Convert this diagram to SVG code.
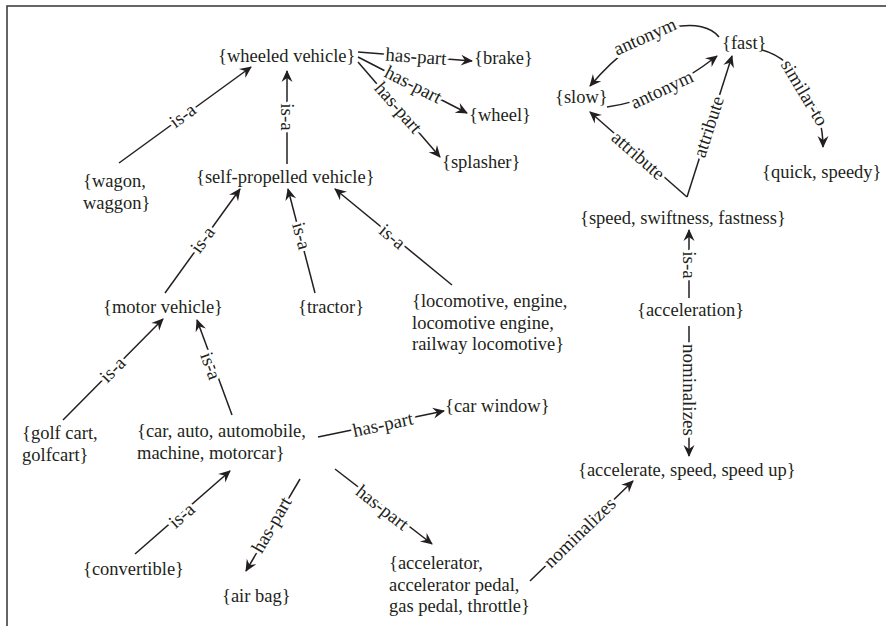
<svg xmlns="http://www.w3.org/2000/svg" width="886" height="626" viewBox="0 0 886 626">
<defs>
<style>
.n{font-family:"Liberation Serif","DejaVu Serif",serif;font-size:18.5px;fill:#231f20}
.l{font-family:"Liberation Serif","DejaVu Serif",serif;font-size:19px;fill:#231f20;stroke:#fff;stroke-width:6px;paint-order:stroke;stroke-linejoin:round;text-anchor:middle}
.e{fill:none;stroke:#231f20;stroke-width:1.5;marker-end:url(#ah)}
.f{fill:none;stroke:#333;stroke-width:1.5}
</style>
<marker id="ah" viewBox="-13 -7 15 14" refX="0" refY="0" markerWidth="15" markerHeight="14" markerUnits="userSpaceOnUse" orient="auto">
<path d="M1,0 L-11,-5.5 L-7,0 L-11,5.5 Z" fill="#231f20"/>
</marker>
</defs>
<rect width="886" height="626" fill="#fff"/>
<path class="f" d="M7,626 L7,6 L886,6"/>
<g id="connectors">
<path class="e" d="M119,163 L251,67"/>
<path class="e" d="M287,164 L287,71"/>
<path class="e" d="M358,52 L472,61"/>
<path class="e" d="M358,57 L467,113"/>
<path class="e" d="M358,62 L440,157"/>
<path class="e" d="M165,293 L240,189"/>
<path class="e" d="M315,293 L288,189"/>
<path class="e" d="M452,285 L335,189"/>
<path class="e" d="M63,420 L163,319"/>
<path class="e" d="M232,415 L197,320"/>
<path class="e" d="M318,437 L444,411"/>
<path class="e" d="M135,554 L230,471"/>
<path class="e" d="M300,479 L246,571"/>
<path class="e" d="M335,469 L432,544"/>
<path class="e" d="M530,581 L633,481"/>
<path class="e" d="M689,298 L689,230"/>
<path class="e" d="M689,326 L689,456"/>
<path class="e" d="M687,197 L590,112"/>
<path class="e" d="M687,197 L732,56"/>
<path class="e" d="M607,107 Q660,100 717,56"/>
<path class="e" d="M719,37 C705,18 650,15 590,86"/>
<path class="e" d="M762,50 C800,60 823,110 823,147"/>
<text class="l" transform="translate(183,116) rotate(-36)" dy="0.3em">is-a</text>
<text class="l" transform="translate(287,117) rotate(90)" dy="0.3em">is-a</text>
<text class="l" transform="translate(416,57) rotate(4)" dy="0.3em">has-part</text>
<text class="l" transform="translate(413,85) rotate(27)" dy="0.3em">has-part</text>
<text class="l" transform="translate(398,108) rotate(49)" dy="0.3em">has-part</text>
<text class="l" transform="translate(203,240) rotate(-54)" dy="0.3em">is-a</text>
<text class="l" transform="translate(301,236) rotate(75)" dy="0.3em">is-a</text>
<text class="l" transform="translate(392,237) rotate(40)" dy="0.3em">is-a</text>
<text class="l" transform="translate(113,370) rotate(-45)" dy="0.3em">is-a</text>
<text class="l" transform="translate(210,366) rotate(70)" dy="0.3em">is-a</text>
<text class="l" transform="translate(383,425) rotate(-12)" dy="0.3em">has-part</text>
<text class="l" transform="translate(182,516) rotate(-41)" dy="0.3em">is-a</text>
<text class="l" transform="translate(272,525) rotate(-60)" dy="0.3em">has-part</text>
<text class="l" transform="translate(382,508) rotate(38)" dy="0.3em">has-part</text>
<text class="l" transform="translate(580,533) rotate(-44)" dy="0.3em">nominalizes</text>
<text class="l" transform="translate(689,265) rotate(90)" dy="0.3em">is-a</text>
<text class="l" transform="translate(689,390) rotate(90)" dy="0.3em">nominalizes</text>
<text class="l" transform="translate(638,156) rotate(41)" dy="0.3em">attribute</text>
<text class="l" transform="translate(709,127) rotate(-72)" dy="0.3em">attribute</text>
<text class="l" transform="translate(662,90) rotate(-25)" dy="0.3em">antonym</text>
<text class="l" transform="translate(645,37) rotate(-24)" dy="0.3em">antonym</text>
<text class="l" transform="translate(804,93) rotate(59)" dy="0.3em">similar-to</text>
</g>
<g id="wheeled-vehicle"><text class="n" x="218" y="62">{wheeled vehicle}</text></g>
<g id="brake"><text class="n" x="474" y="64">{brake}</text></g>
<g id="wheel"><text class="n" x="469" y="121">{wheel}</text></g>
<g id="splasher"><text class="n" x="442" y="168">{splasher}</text></g>
<g id="wagon"><text class="n" x="83" y="187"><tspan x="83">{wagon,</tspan><tspan x="83" dy="21.5">waggon}</tspan></text></g>
<g id="self-propelled-vehicle"><text class="n" x="196" y="183">{self-propelled vehicle}</text></g>
<g id="motor-vehicle"><text class="n" x="103" y="313">{motor vehicle}</text></g>
<g id="tractor"><text class="n" x="298" y="313">{tractor}</text></g>
<g id="locomotive"><text class="n" x="412" y="307"><tspan x="412">{locomotive, engine,</tspan><tspan x="412" dy="21.5">locomotive engine,</tspan><tspan x="412" dy="21.5">railway locomotive}</tspan></text></g>
<g id="golf-cart"><text class="n" x="22" y="439"><tspan x="22">{golf cart,</tspan><tspan x="22" dy="21.5">golfcart}</tspan></text></g>
<g id="car"><text class="n" x="137" y="437"><tspan x="137">{car, auto, automobile,</tspan><tspan x="137" dy="21.5">machine, motorcar}</tspan></text></g>
<g id="car-window"><text class="n" x="445" y="412">{car window}</text></g>
<g id="convertible"><text class="n" x="83" y="575">{convertible}</text></g>
<g id="air-bag"><text class="n" x="222" y="602">{air bag}</text></g>
<g id="accelerator"><text class="n" x="389" y="569"><tspan x="389">{accelerator,</tspan><tspan x="389" dy="21.5">accelerator pedal,</tspan><tspan x="389" dy="21.5">gas pedal, throttle}</tspan></text></g>
<g id="accelerate"><text class="n" x="578" y="476">{accelerate, speed, speed up}</text></g>
<g id="acceleration"><text class="n" x="637" y="316">{acceleration}</text></g>
<g id="speed"><text class="n" x="580" y="224">{speed, swiftness, fastness}</text></g>
<g id="slow"><text class="n" x="555" y="103">{slow}</text></g>
<g id="fast"><text class="n" x="722" y="49">{fast}</text></g>
<g id="quick-speedy"><text class="n" x="762" y="178">{quick, speedy}</text></g>
</svg>
